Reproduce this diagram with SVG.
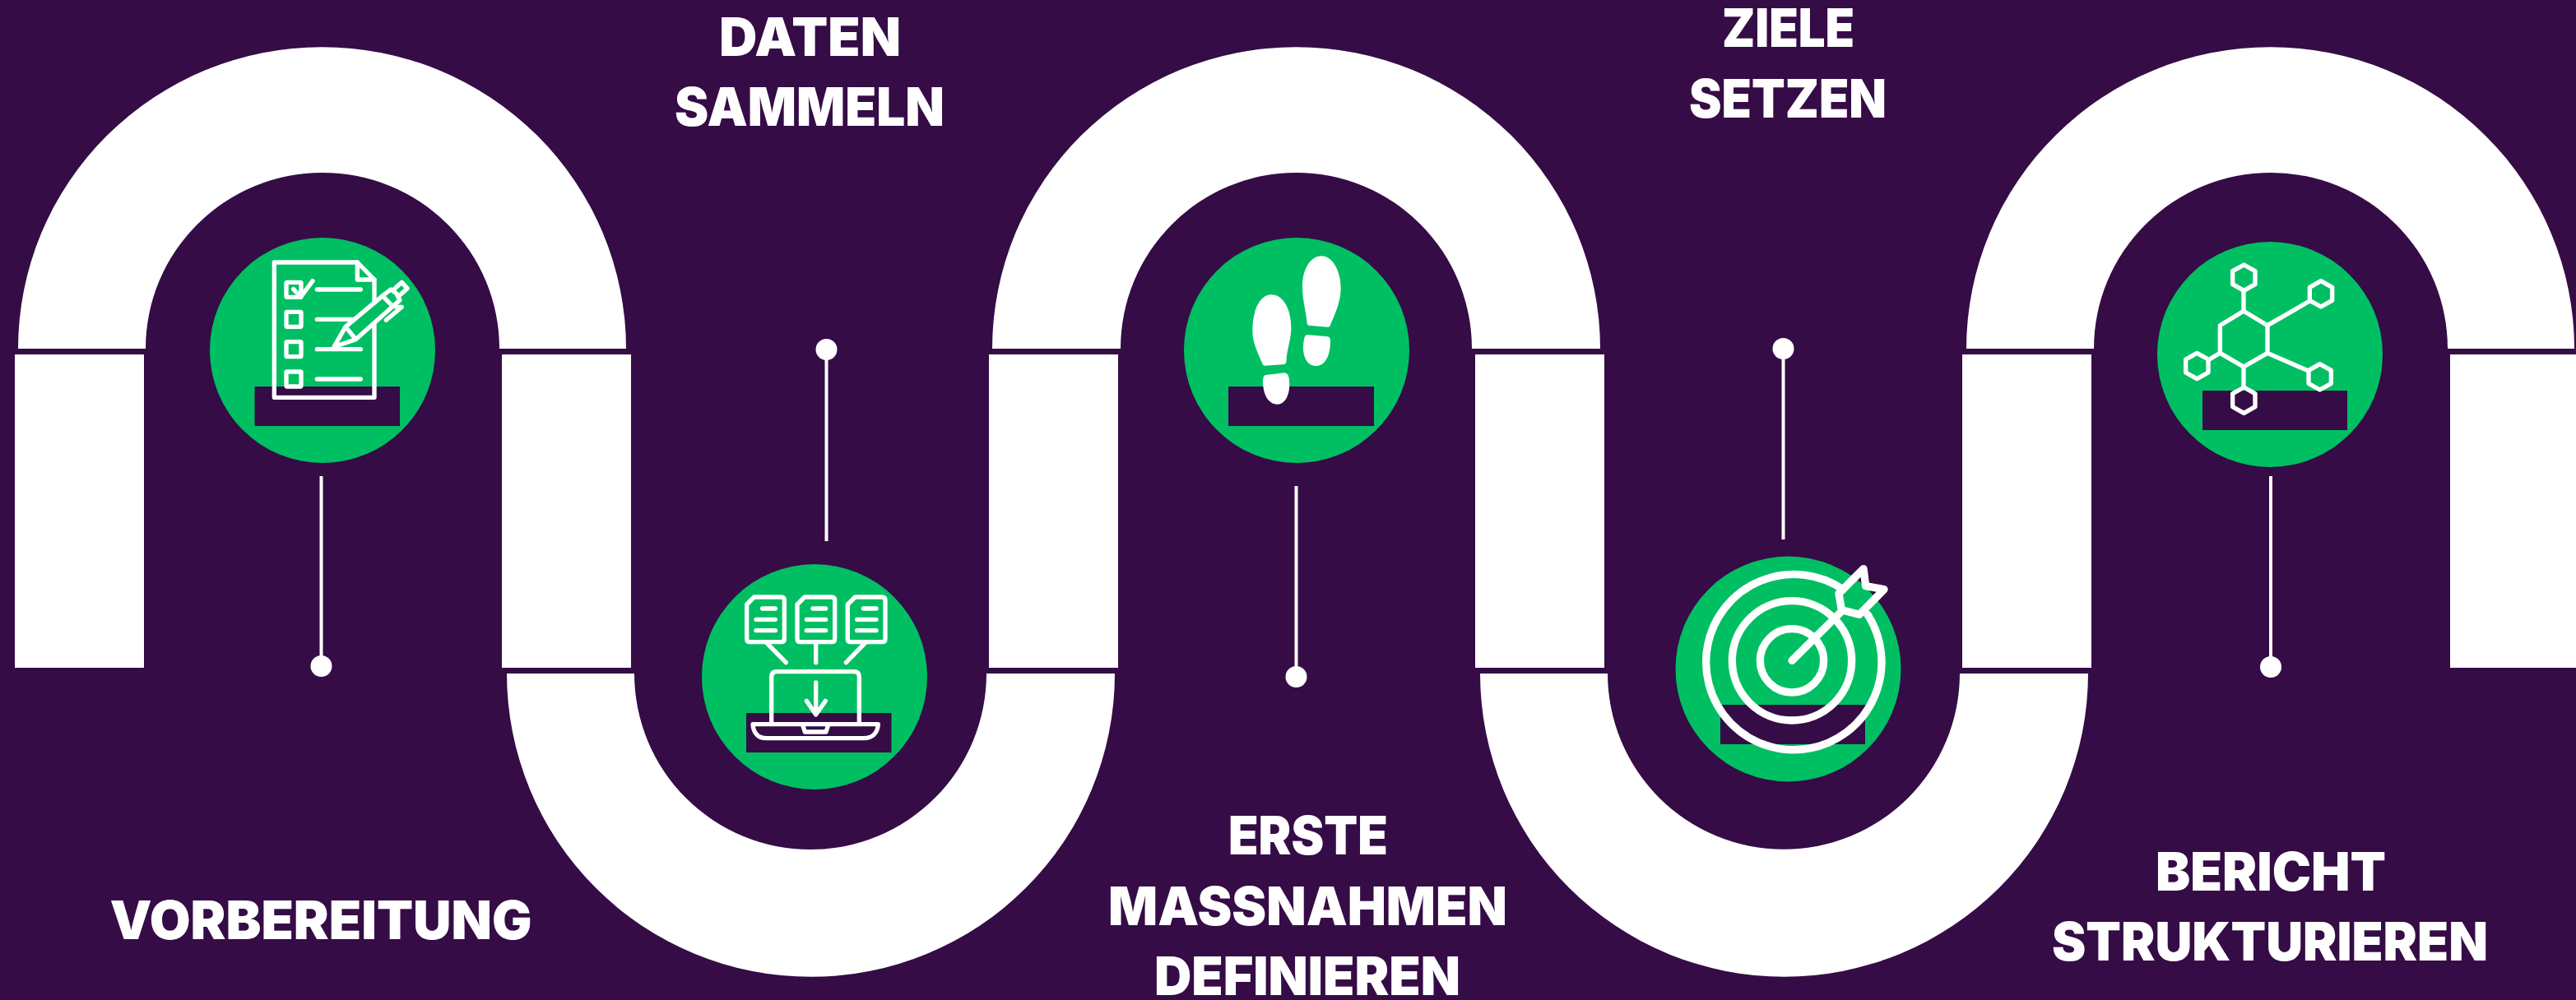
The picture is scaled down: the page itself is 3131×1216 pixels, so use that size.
<svg xmlns="http://www.w3.org/2000/svg" width="3131" height="1216" viewBox="0 0 3131 1216">
<style>
.ribbon{fill:#fff}
.disc{fill:#00BF63}
.bar{fill:#350C46}
.ico{fill:none;stroke:#fff;stroke-width:16;stroke-linecap:round;stroke-linejoin:round}
.wide{stroke-width:28}
.solid{fill:#fff;stroke:none}
.label{font-family:"Inter","Liberation Sans",sans-serif;font-weight:900;font-size:65px;fill:#fff;text-anchor:middle}
.link{stroke:#fff;stroke-width:4;fill:none}
.dot{fill:#fff}
</style>
<defs>
<polygon id="hex" points="0,-47 41,-24 41,24 0,47 -41,24 -41,-24"/>
<path id="sheet" d="M350 198H448Q460 198 460 210V350Q460 362 448 362H335Q323 362 323 350V225Z"/>
<g id="sheetlines"><path d="M380 240H427M357 280H427M357 320H427"/></g>
</defs>
<rect width="3131" height="1216" fill="#350C46"/>
<g id="ribbon">
<path class="ribbon" d="M22 424A369.5 367 0 0 1 761 424H607A215 214 0 0 0 177 424Z"/>
<path class="ribbon" d="M1206 424A369.5 367 0 0 1 1945 424H1789A213.5 214 0 0 0 1362 424Z"/>
<path class="ribbon" d="M2390 424A369.5 367 0 0 1 3129 424H2975A215 214 0 0 0 2545 424Z"/>
<path class="ribbon" d="M616 819A369.5 369 0 0 0 1355 819H1199A214 214 0 0 1 771 819Z"/>
<path class="ribbon" d="M1799 819A369.5 369 0 0 0 2538 819H2382A214 214 0 0 1 1954 819Z"/>
<rect class="ribbon" x="18" y="431" width="157" height="381"/>
<rect class="ribbon" x="610" y="431" width="157" height="381"/>
<rect class="ribbon" x="1202" y="431" width="157" height="381"/>
<rect class="ribbon" x="1793" y="431" width="157" height="381"/>
<rect class="ribbon" x="2385" y="431" width="157" height="381"/>
<rect class="ribbon" x="2978" y="431" width="153" height="381"/>
</g>
<g id="connectors">
<line class="link" x1="390.5" y1="579" x2="390.5" y2="810"/><circle class="dot" cx="390.5" cy="810" r="13"/>
<line class="link" x1="1004.5" y1="425" x2="1004.5" y2="658"/><circle class="dot" cx="1004.5" cy="425" r="13"/>
<line class="link" x1="1575.5" y1="591" x2="1575.5" y2="823"/><circle class="dot" cx="1575.5" cy="823" r="13"/>
<line class="link" x1="2167.5" y1="424" x2="2167.5" y2="656"/><circle class="dot" cx="2167.5" cy="424" r="13"/>
<line class="link" x1="2760" y1="579" x2="2760" y2="811"/><circle class="dot" cx="2760" cy="811" r="13"/>
</g>
<g id="node-vorbereitung">
<circle class="disc" cx="392" cy="426" r="137"/>
<rect class="bar" x="309.5" y="470" width="176.5" height="48"/>
<g class="ico" transform="translate(200 260) scale(.33333)">
<path d="M400 177H703L765 240V670H400Z"/><path d="M703 177V240H765"/>
<rect x="444" y="250" width="54" height="54" rx="3"/><rect x="444" y="358" width="54" height="54" rx="3"/><rect x="444" y="467" width="54" height="54" rx="3"/><rect x="444" y="576" width="54" height="54" rx="3"/>
<path d="M470 275L497 303L540 245"/>
<path d="M556 276H715M556 385H715M556 494H715M556 603H715"/>
<path d="M618 485L660 412L800 295L825 276L845 290L858 315L835 335L697 458Z" fill="#00BF63"/>
<path d="M665 418L695 455M800 305L830 335M840 272L865 250L885 272L860 295M845 340H865L808 388"/>
</g>
<text class="label" x="390" y="1142" textLength="513" lengthAdjust="spacingAndGlyphs">VORBEREITUNG</text>
</g>
<g id="node-daten-sammeln">
<circle class="disc" cx="990" cy="823" r="137"/>
<rect class="bar" x="907" y="867" width="176.5" height="48"/>
<g class="ico" transform="translate(800 660) scale(.33333)">
<use href="#sheet"/><use href="#sheetlines"/>
<use href="#sheet" x="184"/><use href="#sheetlines" x="184"/>
<use href="#sheet" x="368"/><use href="#sheetlines" x="368"/>
<path d="M395 365L466 437M575 365V437M755 365L685 437"/>
<path d="M413 655V490Q413 470 433 470H713Q733 470 733 490V655"/>
<path d="M575 510V625M541 577L575 627L610 577"/>
<path d="M345 662H802C800 695 780 713 750 713H395C365 713 347 695 345 662Z"/>
<path d="M527 665L535 690H612L620 665"/>
</g>
<text class="label" x="984.5" y="68" textLength="221" lengthAdjust="spacingAndGlyphs">DATEN</text>
<text class="label" x="984" y="153" textLength="328" lengthAdjust="spacingAndGlyphs">SAMMELN</text>
</g>
<g id="node-erste-massnahmen">
<circle class="disc" cx="1576" cy="426" r="137"/>
<rect class="bar" x="1493" y="470" width="177" height="48"/>
<g class="ico" transform="translate(1400 280) scale(.33333)">
<path class="solid" d="M618 94C660 94 690 150 689 215C688 265 665 310 650 348Q648 354 642 353L572 347Q566 346 566 340C564 300 549 260 549 205C549 140 580 94 618 94Z"/>
<path class="solid" d="M566 381L642 388Q650 390 651 398C652 460 630 495 598 495C568 495 552 465 552 430C552 410 555 381 566 381Z"/>
<path class="solid" d="M436 235C480 235 508 290 508 355C508 400 493 430 490 480Q489 488 483 489L412 494Q406 494 404 488C385 445 367 410 367 365C367 290 395 235 436 235Z"/>
<path class="solid" d="M415 528L484 520Q498 522 500 540C508 590 490 635 458 635C425 635 405 600 405 550Q405 530 415 528Z"/>
</g>
<text class="label" x="1590" y="1039" textLength="194" lengthAdjust="spacingAndGlyphs">ERSTE</text>
<text class="label" x="1589.5" y="1125" textLength="485" lengthAdjust="spacingAndGlyphs">MASSNAHMEN</text>
<text class="label" x="1589" y="1210" textLength="372" lengthAdjust="spacingAndGlyphs">DEFINIEREN</text>
</g>
<g id="node-ziele-setzen">
<circle class="disc" cx="2173.5" cy="813.5" r="137"/>
<rect class="bar" x="2091" y="857" width="176" height="48"/>
<g class="ico wide" transform="translate(2000 660) scale(.33333)">
<path d="M720 170A320 320 0 1 0 810 262"/>
<circle cx="534" cy="430" r="218"/>
<circle cx="534" cy="430" r="116"/>
<path d="M534 430L710 255"/>
<path d="M705 185L795 95L803 158L870 170L780 262L715 245Z"/>
</g>
<text class="label" x="2173.5" y="57" textLength="161" lengthAdjust="spacingAndGlyphs">ZIELE</text>
<text class="label" x="2173" y="143" textLength="240" lengthAdjust="spacingAndGlyphs">SETZEN</text>
</g>
<g id="node-bericht">
<circle class="disc" cx="2759" cy="431" r="137"/>
<rect class="bar" x="2677" y="475" width="176" height="48"/>
<g class="ico" transform="translate(2600 290) scale(.33333)">
<polygon points="381,265 468,317 468,418 381,468 295,418 295,317"/>
<use href="#hex" x="382" y="143"/><use href="#hex" x="663" y="202"/><use href="#hex" x="659" y="505"/><use href="#hex" x="382" y="590"/><use href="#hex" x="211" y="465"/>
<path d="M381 265V190M468 317L622 228M468 418L615 482M381 468V543M295 418L255 442"/>
</g>
<text class="label" x="2760" y="1083" textLength="280" lengthAdjust="spacingAndGlyphs">BERICHT</text>
<text class="label" x="2759" y="1168" textLength="530" lengthAdjust="spacingAndGlyphs">STRUKTURIEREN</text>
</g>
</svg>
